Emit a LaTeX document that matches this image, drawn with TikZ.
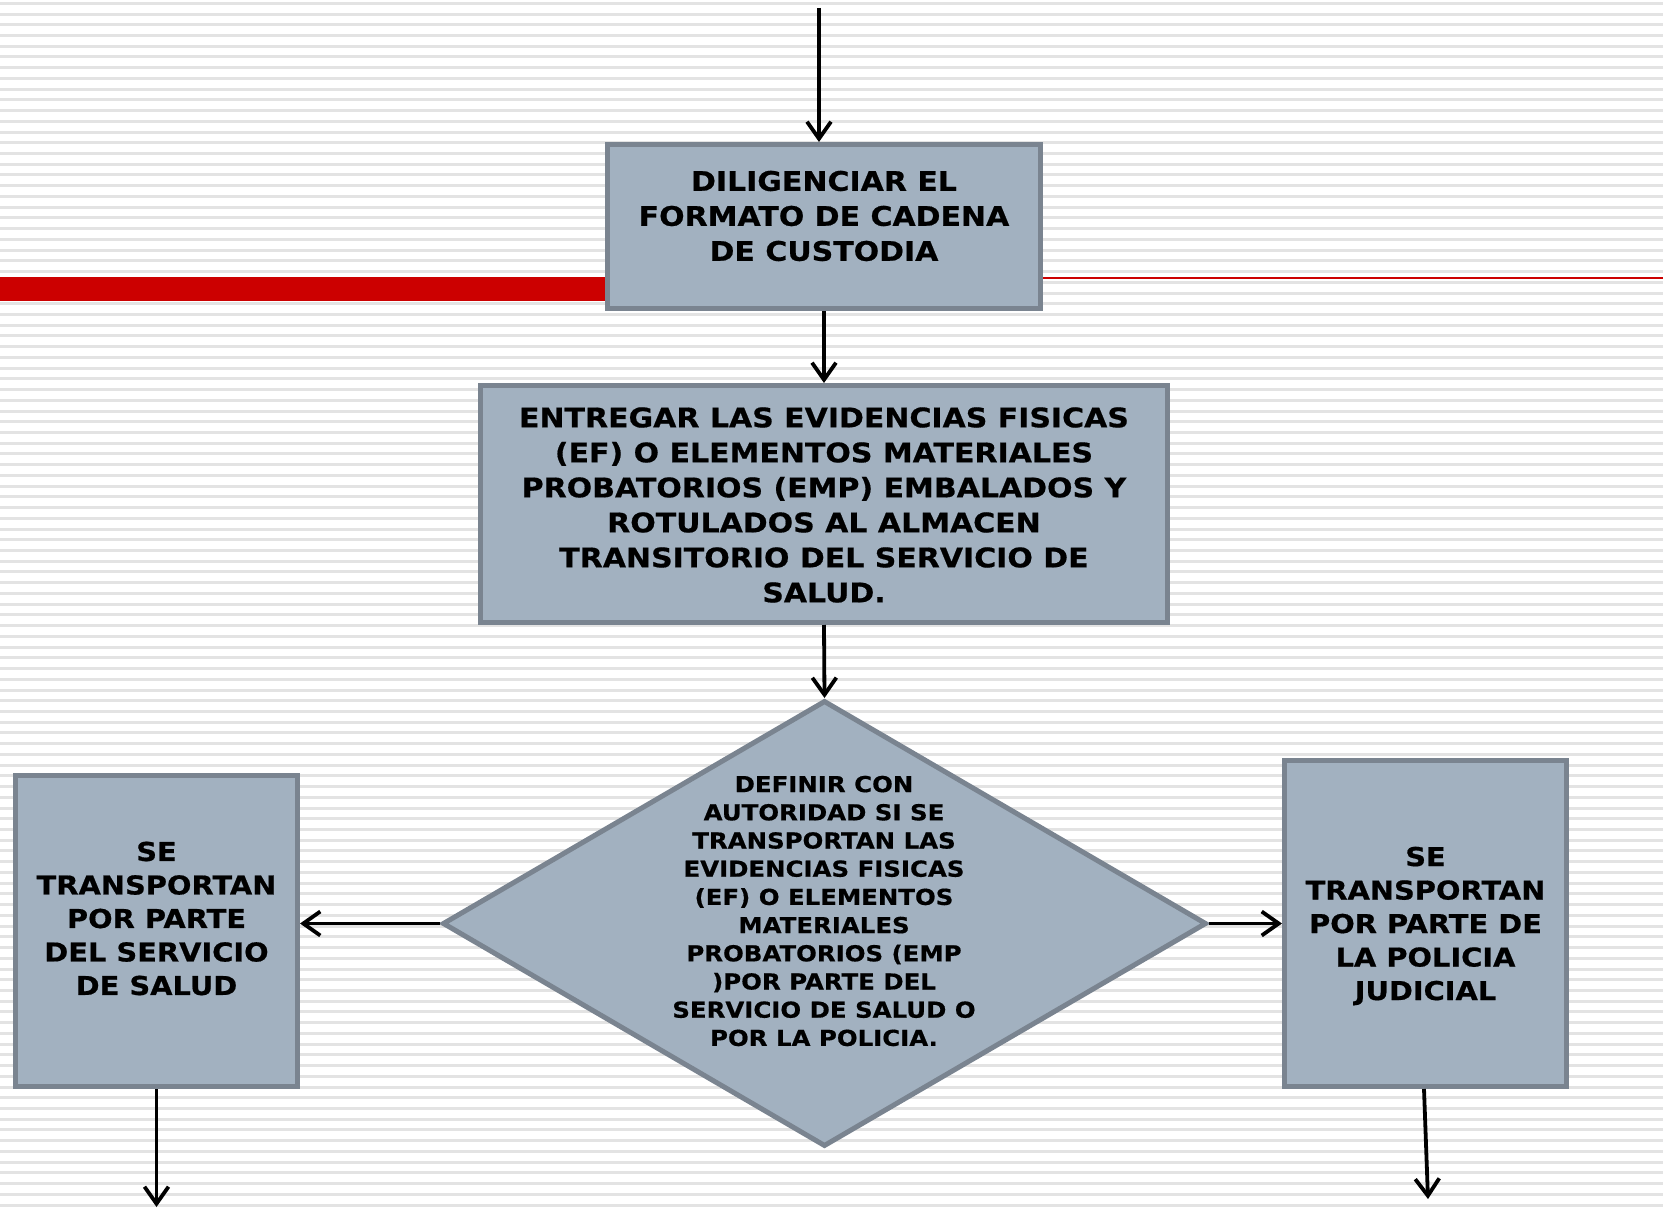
\documentclass[tikz,border=0pt]{standalone}
\usepackage{fontspec}
\setmainfont{DejaVu Sans}
\newfontfamily\boxfont[FakeStretch=1.11,FakeBold=0.6]{DejaVu Sans Bold}
\usetikzlibrary{arrows.meta,shapes.geometric}
\definecolor{boxfill}{HTML}{A2B1C0}
\definecolor{boxline}{HTML}{7A8490}
\definecolor{stripe}{HTML}{E3E3E3}
\definecolor{redbar}{HTML}{CC0000}
\begin{document}
\begin{tikzpicture}[x=1pt,y=-1pt,
  procbox/.style={draw=boxline,fill=boxfill,line width=5pt,rectangle,inner sep=0pt},
  decbox/.style={draw=boxline,fill=boxfill,line width=5pt,diamond,inner sep=0pt},
  lblbig/.style={font=\boxfont\fontsize{27}{35}\selectfont,align=center,inner sep=0pt},
  lblside/.style={font=\boxfont\fontsize{26}{33.5}\selectfont,align=center,inner sep=0pt},
  lblsmall/.style={font=\boxfont\fontsize{22}{28.2}\selectfont,align=center,inner sep=0pt},
  conn/.style={line width=3.8pt,-{Straight Barb[length=17pt,width=24pt]}}
]
\useasboundingbox (0,0) rectangle (1663,1209);
\fill[white] (0,0) rectangle (1663,1209);
\foreach \i in {0,...,112}
  \draw[stripe,line width=3pt] (0,{3.3+10.73*\i}) -- (1663,{3.3+10.73*\i});
% red bars
\fill[redbar] (0,277) rectangle (610,301);
\draw[redbar,line width=2pt] (1040,278) -- (1663,278);
% boxes
\node[procbox,minimum width=433pt,minimum height=164pt] (b1) at (824,226.5) {};
\node[procbox,minimum width=687pt,minimum height=237pt] (b2) at (824,504) {};
\node[decbox,minimum width=764pt,minimum height=446pt] (dia) at (824.5,923.5) {};
\node[procbox,minimum width=282pt,minimum height=311pt] (lb) at (156.5,931) {};
\node[procbox,minimum width=282pt,minimum height=326pt] (rb) at (1425.5,923.5) {};
% texts
\node[lblbig] (t1) at (824,216) {DILIGENCIAR EL\\FORMATO DE CADENA\\DE CUSTODIA};
\node[lblbig] (t2) at (824,505) {ENTREGAR LAS EVIDENCIAS FISICAS\\(EF) O ELEMENTOS MATERIALES\\PROBATORIOS (EMP) EMBALADOS Y\\ROTULADOS AL ALMACEN\\TRANSITORIO DEL SERVICIO DE\\SALUD.};
\node[lblsmall] (t3) at (824,911) {DEFINIR CON\\AUTORIDAD SI SE\\TRANSPORTAN LAS\\EVIDENCIAS FISICAS\\(EF) O ELEMENTOS\\MATERIALES\\PROBATORIOS (EMP\\)POR PARTE DEL\\SERVICIO DE SALUD O\\POR LA POLICIA.};
\node[lblside] (t4) at (156.5,918.5) {SE\\TRANSPORTAN\\POR PARTE\\DEL SERVICIO\\DE SALUD};
\node[lblside] (t5) at (1425.5,926) {SE\\TRANSPORTAN\\POR PARTE DE\\LA POLICIA\\JUDICIAL};
% connectors
\coordinate (top) at (819,8);
\coordinate (lend) at (156.5,1207);
\coordinate (rstart) at (1424,1089);
\coordinate (rend) at (1428,1199);
\draw[conn] (top) -- (top |- b1.north);
\draw[conn] (b1.south) -- (b2.north);
\draw[conn] (b2.south) -- (dia.north);
\draw[conn] (dia.west) -- (dia.west -| lb.east);
\draw[conn] (dia.east) -- (dia.east -| rb.west);
\draw[conn] (lb.south) -- (lend);
\draw[conn] (rstart) -- (rend);
\end{tikzpicture}
\end{document}
